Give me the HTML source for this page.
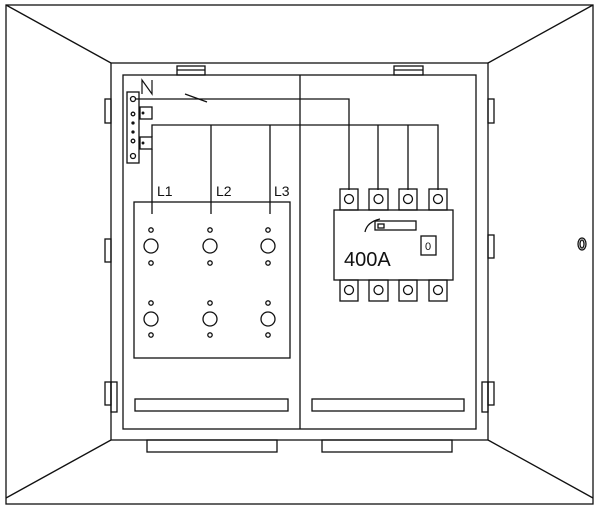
<!DOCTYPE html>
<html><head><style>body{margin:0;background:#fff}svg{display:block}</style></head>
<body>
<svg width="600" height="505" viewBox="0 0 600 505" xmlns="http://www.w3.org/2000/svg" fill="none" stroke="#111" stroke-width="1.3" font-family="Liberation Sans, sans-serif">
<rect x="6" y="5" width="587" height="499"/>
<line x1="6" y1="5" x2="111" y2="63"/>
<line x1="593" y1="5" x2="488" y2="63"/>
<line x1="6" y1="498" x2="111" y2="440"/>
<line x1="593" y1="498" x2="488" y2="440"/>
<rect x="111" y="63" width="377" height="377"/>
<rect x="123" y="75" width="353" height="354"/>
<line x1="300" y1="75" x2="300" y2="429"/>
<rect x="177" y="66" width="28" height="9"/><line x1="177" y1="70" x2="205" y2="70"/>
<rect x="394" y="66" width="29" height="9"/><line x1="394" y1="70" x2="423" y2="70"/>
<rect x="105" y="99" width="6" height="24"/>
<rect x="105" y="239" width="6" height="23"/>
<rect x="105" y="382" width="6" height="23"/>
<rect x="111" y="382" width="6" height="30"/>
<rect x="488" y="99" width="6" height="24"/>
<rect x="488" y="235" width="6" height="23"/>
<rect x="488" y="382" width="6" height="23"/>
<rect x="482" y="382" width="6" height="30"/>
<ellipse cx="582" cy="244" rx="4" ry="6"/><ellipse cx="582" cy="244" rx="2" ry="4"/>
<rect x="135" y="399" width="153" height="12"/>
<rect x="312" y="399" width="152" height="12"/>
<rect x="147" y="440" width="130" height="12"/>
<rect x="322" y="440" width="130" height="12"/>
<rect x="127" y="92" width="12" height="71"/>
<circle cx="133" cy="99" r="2.5"/><circle cx="133" cy="114" r="1.8"/><circle cx="133" cy="123" r="1" fill="#111"/><circle cx="133" cy="132" r="1" fill="#111"/><circle cx="133" cy="141" r="1.8"/><circle cx="133" cy="156" r="2.5"/>
<rect x="140" y="107" width="12" height="12"/><circle cx="143" cy="113" r="0.8" fill="#111"/>
<rect x="140" y="137" width="12" height="12"/><circle cx="143" cy="143" r="0.8" fill="#111"/>
<polyline points="142,94 142,80 152,94 152,80" stroke-width="1.2"/>
<line x1="136" y1="99" x2="207" y2="99"/>
<line x1="185" y1="94" x2="207" y2="102"/>
<polyline points="207,99 349,99 349,190"/>
<polyline points="152,137 152,125 438,125 438,190"/>
<line x1="152" y1="149" x2="152" y2="214"/>
<line x1="211" y1="125" x2="211" y2="214"/>
<line x1="270" y1="125" x2="270" y2="214"/>
<line x1="378" y1="125" x2="378" y2="190"/>
<line x1="408" y1="125" x2="408" y2="190"/>
<g fill="#111" stroke="none" font-size="14"><text x="157" y="196">L1</text><text x="216" y="196">L2</text><text x="274" y="196">L3</text></g>
<rect x="134" y="202" width="156" height="156"/>
<g>
<circle cx="151" cy="246" r="7"/><circle cx="210" cy="246" r="7"/><circle cx="268" cy="246" r="7"/>
<circle cx="151" cy="319" r="7"/><circle cx="210" cy="319" r="7"/><circle cx="268" cy="319" r="7"/>
<circle cx="151" cy="230" r="2.2"/><circle cx="210" cy="230" r="2.2"/><circle cx="268" cy="230" r="2.2"/>
<circle cx="151" cy="263" r="2.2"/><circle cx="210" cy="263" r="2.2"/><circle cx="268" cy="263" r="2.2"/>
<circle cx="151" cy="303" r="2.2"/><circle cx="210" cy="303" r="2.2"/><circle cx="268" cy="303" r="2.2"/>
<circle cx="151" cy="335" r="2.2"/><circle cx="210" cy="335" r="2.2"/><circle cx="268" cy="335" r="2.2"/>
</g>
<g>
<rect x="340" y="189" width="18" height="21"/><rect x="369" y="189" width="19" height="21"/><rect x="399" y="189" width="18" height="21"/><rect x="429" y="189" width="18" height="21"/>
<circle cx="349" cy="199" r="4.5"/><circle cx="378.5" cy="199" r="4.5"/><circle cx="408" cy="199" r="4.5"/><circle cx="438" cy="199" r="4.5"/>
<rect x="334" y="210" width="119" height="70"/>
<rect x="340" y="280" width="18" height="21"/><rect x="369" y="280" width="19" height="21"/><rect x="399" y="280" width="18" height="21"/><rect x="429" y="280" width="18" height="21"/>
<circle cx="349" cy="290" r="4.5"/><circle cx="378.5" cy="290" r="4.5"/><circle cx="408" cy="290" r="4.5"/><circle cx="438" cy="290" r="4.5"/>
<rect x="375" y="221" width="41" height="9"/><rect x="378" y="224" width="6" height="4"/>
<path d="M365 232 Q367 222 380 219"/>
<rect x="421" y="236" width="15" height="19"/>
</g>
<g fill="#111" stroke="none"><text x="425" y="250" font-size="11">0</text><text x="344" y="266" font-size="20">400A</text></g>
</svg>
</body></html>
